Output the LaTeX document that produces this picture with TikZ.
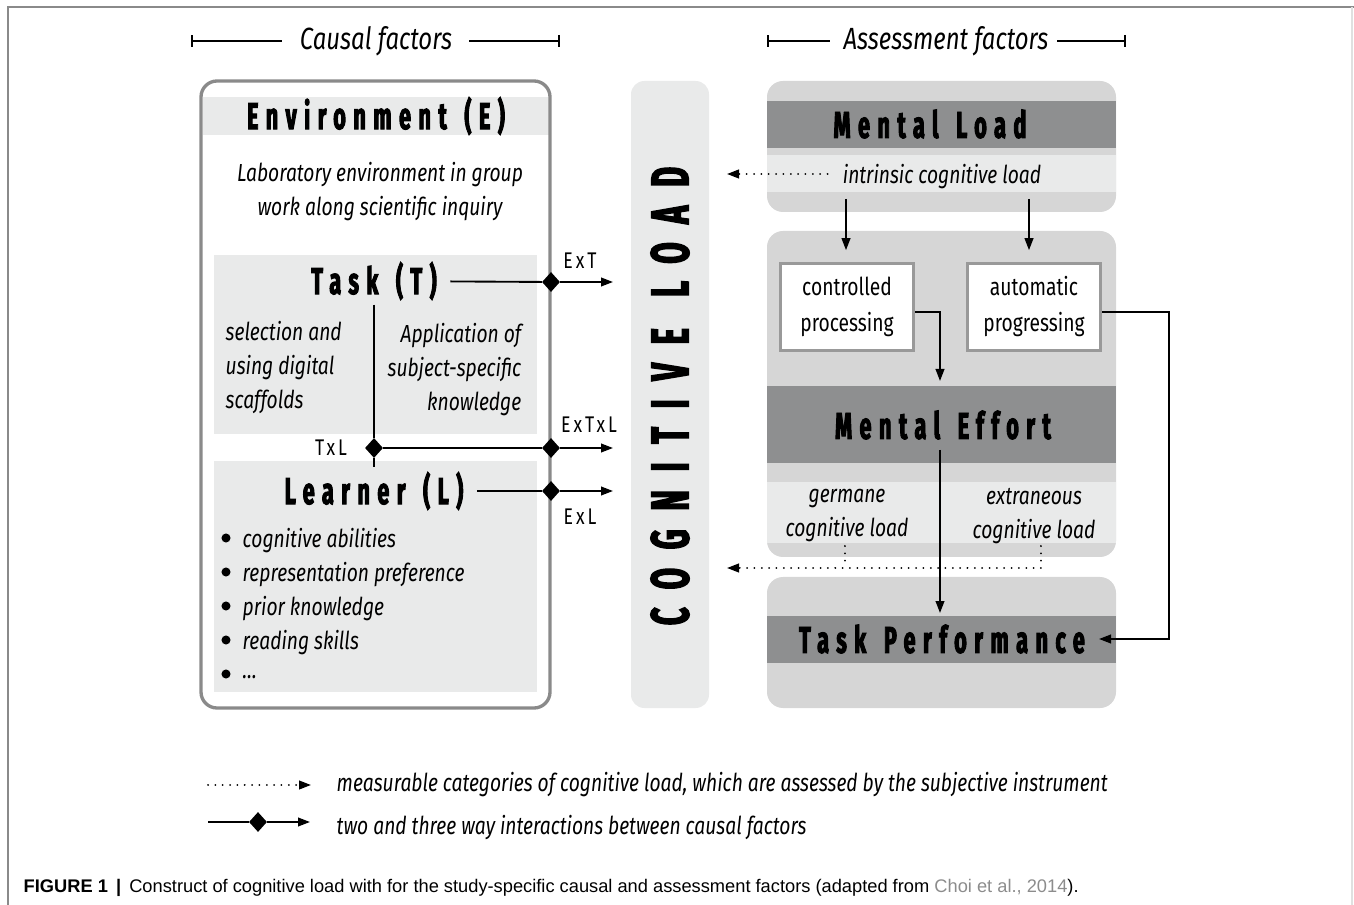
\documentclass[tikz,border=0pt]{standalone}
\usepackage{fontspec}
\newfontfamily\bodyfont[FakeStretch=0.78]{Fira Sans}
\newfontfamily\headfont[FakeStretch=0.58,FakeBold=2.5,LetterSpace=20,WordSpace=1.4]{Fira Sans}
\newfontfamily\loadfont[FakeStretch=0.58,FakeBold=2.5,LetterSpace=35,WordSpace=1.2]{Fira Sans}
\newfontfamily\tagfont[FakeStretch=0.78,LetterSpace=13]{Fira Sans}
\newfontfamily\capfont{Liberation Sans}
\usetikzlibrary{arrows.meta,shapes.geometric}

\definecolor{lightband}{HTML}{E9EAEA}
\definecolor{midblock}{HTML}{D6D6D6}
\definecolor{darkband}{HTML}{8E8F90}
\definecolor{framegray}{HTML}{8A8A8A}
\definecolor{citegray}{HTML}{8C8C8C}

\begin{document}
\begin{tikzpicture}[x=0.75pt,y=-0.75pt,
edge/.style={line width=1.4pt,-{Triangle[length=9pt,width=6.5pt]}},
plainedge/.style={line width=1.4pt},
dotedge/.style={line width=1.5pt,line cap=round,dash pattern=on 0.01pt off 5.5pt,-{Triangle[length=9pt,width=6.5pt]}},
dotline/.style={line width=1.5pt,line cap=round,dash pattern=on 0.01pt off 5.5pt},
bracket/.style={line width=1.4pt,{Bar[width=9pt]}-},
inter/.style={diamond,fill=black,inner sep=0pt,minimum width=13.5pt,minimum height=15pt},
head/.style={font=\headfont\bfseries\fontsize{28}{30}\selectfont,inner xsep=10pt},
body/.style={font=\bodyfont\itshape\fontsize{18.5}{25.5}\selectfont,align=center,yshift=-2pt},
upbody/.style={font=\bodyfont\fontsize{18.5}{27}\selectfont,align=center},
tag/.style={font=\tagfont\fontsize{17}{20}\selectfont},
hdr/.style={font=\bodyfont\itshape\fontsize{23}{26}\selectfont},
proc/.style={rectangle,draw=black!40,line width=2.2pt,fill=white,upbody,minimum width=100pt,minimum height=65pt},
band/.style={fill=lightband},
block/.style={fill=midblock,rounded corners=12pt}]

\useasboundingbox (0,0) rectangle (1354,905);

% figure frame
\draw[framegray,line width=1.5pt] (8,905) -- (8,7) -- (1354,7);
\draw[black!12,line width=1pt] (1352,7) -- (1352,905);

% column headers
\node (CAUSAL) at (376,41) [hdr] {Causal factors};
\draw[bracket] (191,41) -- (282,41);
\draw[bracket] (560,41) -- (469,41);
\node (ASSESS) at (946,41) [hdr] {Assessment factors};
\draw[bracket] (767,41) -- (830,41);
\draw[bracket] (1126,41) -- (1057,41);

% causal factors
\fill[band] (203,97) rectangle (549,135);
\fill[band] (214,255) rectangle (537,434);
\fill[band] (214,461) rectangle (537,692);
\draw[framegray,line width=2.5pt,rounded corners=12pt] (201,81) rectangle (550,708);

\node (ENV) at (376,116) [head] {Environment (E)};
\node (ENVTXT) at (380,189) [body] {Laboratory environment in group\\work along scientific inquiry};
\node (TASK) at (374,281) [head] {Task (T)};
\node (TLEFT) at (221,365) [body,anchor=west,align=left] {selection and\\using digital\\scaffolds};
\node (TRIGHT) at (526,367) [body,anchor=east,align=right] {Application of\\subject-specific\\knowledge};
\node (LEARNER) at (374,491) [head] {Learner (L)};
\foreach \entry/\yy in {cognitive abilities/538,representation preference/572,prior knowledge/606,reading skills/640,\dots/674}{
  \fill (226,\yy) circle (3.4pt);
  \node[body,anchor=west] at (238,\yy) {\entry};
}

% interactions
\node (DTL) at (374,448) [inter] {};
\node (DET) at (551,282) [inter] {};
\node (DETL) at (551,448) [inter] {};
\node (DEL) at (551,491) [inter] {};
\coordinate (ETEND) at (613,282);
\coordinate (ETLEND) at (613,448);
\coordinate (ELEND) at (613,491);
\draw[plainedge] (TASK.south -| DTL) -- (DTL);
\draw[plainedge] (DTL) -- (LEARNER.north -| DTL);
\draw[plainedge] (TASK) -- (DET);
\draw[edge] (DET) -- (ETEND);
\draw[plainedge] (DTL) -- (DETL);
\draw[edge] (DETL) -- (ETLEND);
\draw[plainedge] (LEARNER) -- (DEL);
\draw[edge] (DEL) -- (ELEND);
\node at (580,261) [tag] {ExT};
\node at (589,425) [tag] {ExTxL};
\node at (580,517) [tag] {ExL};
\node at (331,448) [tag] {TxL};

% cognitive load bar
\fill[band,rounded corners=10pt] (631,81) rectangle (709,708);
\node (CL) at (670,396) [rotate=90,font=\loadfont\bfseries\fontsize{40}{42}\selectfont] {COGNITIVE LOAD};
\coordinate (CLIN1) at (727,174);
\coordinate (CLIN2) at (727,568);

% assessment factors
\fill[block] (767,81) rectangle (1116,212);
\fill[darkband] (767,101) rectangle (1116,148);
\fill[band] (767,155) rectangle (1116,192);
\node (ML) at (930,124) [head] {Mental Load};
\node (ICL) at (942,174) [body] {intrinsic cognitive load};

\fill[block] (767,231) rectangle (1116,557);
\node (CP) at (847,307) [proc] {controlled\\processing};
\node (AP) at (1034,307) [proc] {automatic\\progressing};
\fill[darkband] (767,386) rectangle (1116,463);
\node (ME) at (943,425) [head] {Mental Effort};
\fill[band] (767,482) rectangle (1116,543);
\node (GCL) at (847,513) [body] {germane\\cognitive load};
\node (ECL) at (1034,513) [body] {extraneous\\cognitive load};

\fill[block] (767,577) rectangle (1116,708);
\fill[darkband] (767,616) rectangle (1116,663);
\node (TP) at (942,639) [head] {Task Performance};

% connectors
\coordinate (ICLA) at (846,199);
\coordinate (ICLB) at (1029,199);
\coordinate (METOP) at (940,381);
\coordinate (MEOUT) at (940,450);
\coordinate (TPIN) at (940,613);
\coordinate (GOUT) at (845,546);
\coordinate (EOUT) at (1041,546);
\coordinate (TPEND) at (1099,639);
\draw[dotedge] ([xshift=-8pt,yshift=2pt]ICL.west) -- (CLIN1);
\draw[edge,shorten >=9pt] (ICLA) -- (ICLA |- CP.north);
\draw[edge,shorten >=9pt] (ICLB) -- (ICLB |- AP.north);
\draw[edge] ([yshift=-4pt]CP.east) -| (METOP);
\draw[edge] ([yshift=-4pt]AP.east) -- ++(67,0) |- (TPEND);
\draw[edge] (MEOUT) -- (TPIN);
\draw[dotline] (GOUT) -- (GOUT |- CLIN2);
\draw[dotedge] (EOUT) -- (EOUT |- CLIN2) -- (CLIN2);

% legend
\coordinate (LGA) at (208,785);
\coordinate (LGB) at (311,785);
\coordinate (LGC) at (208,822);
\coordinate (LGD) at (310,822);
\node (LGDIA) at (258,822) [inter] {};
\draw[dotedge] (LGA) -- (LGB);
\draw[plainedge] (LGC) -- (LGDIA);
\draw[edge] (LGDIA) -- (LGD);
\node (LEG1) at (332,782) [body,anchor=west] {measurable categories of cognitive load, which are assessed by the subjective instrument};
\node (LEG2) at (332,825) [body,anchor=west] {two and three way interactions between causal factors};

% caption
\node (CAPTION) at (19,888) [anchor=west,font=\capfont\fontsize{13.7}{15}\selectfont] {\textbf{FIGURE 1 \,|}\, Construct of cognitive load with for the study-specific causal and assessment factors (adapted from \textcolor{citegray}{Choi et al., 2014}).};

\end{tikzpicture}
\end{document}
